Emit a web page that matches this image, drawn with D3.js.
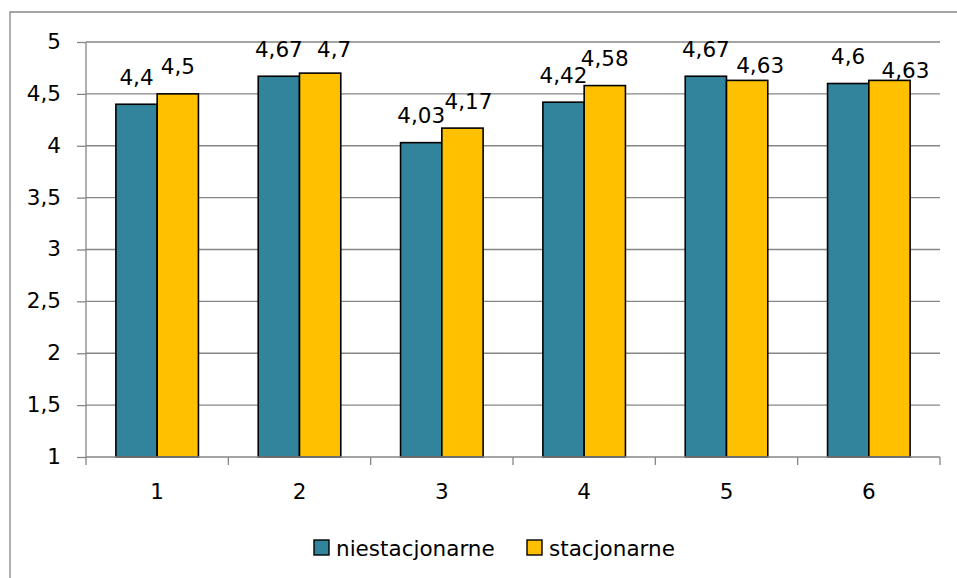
<!DOCTYPE html>
<html lang="pl">
<head>
<meta charset="utf-8">
<title>niestacjonarne / stacjonarne</title>
<script src="https://cdnjs.cloudflare.com/ajax/libs/d3/7.8.5/d3.min.js"></script>
<style>
  html, body { margin: 0; padding: 0; background: #fff; overflow: hidden; }
  svg { display: block; font-family: "DejaVu Sans", sans-serif; }
  .axis path, .axis line { stroke: #868686; }
  .axis text { fill: #000; font-size: 21.5px; font-family: "DejaVu Sans", sans-serif; }
</style>
</head>
<body>
<svg width="957" height="578"></svg>
<script>
// data
var categories = ["1", "2", "3", "4", "5", "6"];
var seriesNames = ["niestacjonarne", "stacjonarne"];
var niestacjonarne = [4.4, 4.67, 4.03, 4.42, 4.67, 4.6];
var stacjonarne = [4.5, 4.7, 4.17, 4.58, 4.63, 4.63];
var yTicks = [1, 1.5, 2, 2.5, 3, 3.5, 4, 4.5, 5];

var colors = ["#31849B", "#FFC000"];
// hand-moved labels of the second series in the original [dx, dy]
var labelNudge = [[0, 0], [14, 3], [6, 0], [0, 0], [13, 12], [16, 17]];

var svg = d3.select("svg");
var plotL = 86, plotR = 940, plotT = 42, plotB = 457;

var pl = d3.formatLocale({decimal: ",", thousands: " ", grouping: [3], currency: ["", " zł"]});
var fmt = pl.format(".2~f");

var x0 = d3.scaleBand().domain(categories).range([plotL, plotR])
    .paddingInner(0.42).paddingOuter(0.21);
var x1 = d3.scaleBand().domain(seriesNames).range([0, x0.bandwidth()]);
var y = d3.scaleLinear().domain([1, 5]).range([plotB, plotT]);

// outer chart frame (only top and left edges fall inside the picture)
svg.append("path")
    .attr("d", "M10,578V12H957")
    .attr("fill", "none")
    .attr("stroke", "#868686")
    .attr("stroke-width", 1.3);

// gridlines
svg.append("g").selectAll("line")
    .data(yTicks.slice(1))
    .join("line")
    .attr("x1", plotL).attr("x2", plotR)
    .attr("y1", d => y(d)).attr("y2", d => y(d))
    .attr("stroke", "#868686")
    .attr("stroke-width", 1.3);

// y axis
var yAxis = svg.append("g")
    .attr("class", "axis")
    .attr("transform", "translate(" + plotL + ",0)")
    .call(d3.axisLeft(y).tickValues(yTicks).tickSize(9).tickPadding(16).tickFormat(fmt));
yAxis.select(".domain").attr("d", "M0," + plotB + "V" + plotT).attr("stroke-width", 1.3);
yAxis.selectAll(".tick line").attr("stroke-width", 1.3);
yAxis.selectAll("text").attr("dy", "0.3em");

// bars
var rows = categories.map((c, i) => ({cat: c, vals: [niestacjonarne[i], stacjonarne[i]], i: i}));
var groups = svg.append("g").selectAll("g")
    .data(rows)
    .join("g")
    .attr("transform", d => "translate(" + x0(d.cat) + ",0)");

groups.selectAll("rect")
    .data(d => d.vals.map((v, k) => ({v: v, k: k, i: d.i})))
    .join("rect")
    .attr("x", d => x1(seriesNames[d.k]))
    .attr("y", d => y(d.v))
    .attr("width", x1.bandwidth())
    .attr("height", d => y(1) - y(d.v))
    .attr("fill", d => colors[d.k])
    .attr("stroke", "#000")
    .attr("stroke-width", 1.6);

// x axis
var xAxis = svg.append("g")
    .attr("class", "axis")
    .attr("transform", "translate(0," + plotB + ")")
    .call(d3.axisBottom(x0).tickSize(0).tickPadding(27));
xAxis.select(".domain").attr("d", "M" + plotL + ",0H" + plotR).attr("stroke-width", 1.3);
xAxis.selectAll("text").attr("dy", "0.71em");
var step = x0.step();
var bounds = categories.map(c => x0(c) - x0.paddingOuter() * step).concat([plotR]);
xAxis.selectAll(".bound")
    .data(bounds)
    .join("line")
    .attr("class", "bound")
    .attr("x1", d => d).attr("x2", d => d)
    .attr("y1", 0).attr("y2", 8)
    .attr("stroke", "#868686")
    .attr("stroke-width", 1.3);

// data labels
groups.selectAll("text.lbl")
    .data(d => d.vals.map((v, k) => ({v: v, k: k, i: d.i})))
    .join("text")
    .attr("class", "lbl")
    .attr("x", d => x1(seriesNames[d.k]) + x1.bandwidth() / 2 + (d.k === 1 ? labelNudge[d.i][0] : 0))
    .attr("y", d => y(d.v) - 19.5 + (d.k === 1 ? labelNudge[d.i][1] : 0))
    .attr("text-anchor", "middle")
    .attr("font-size", 21.5)
    .attr("fill", "#000")
    .text(d => fmt(d.v));

// legend
var legendX = [314, 527];
var legend = svg.append("g").selectAll("g")
    .data(seriesNames)
    .join("g")
    .attr("transform", (d, k) => "translate(" + legendX[k] + ",540)");
legend.append("rect")
    .attr("width", 15).attr("height", 15)
    .attr("fill", (d, k) => colors[k])
    .attr("stroke", "#000")
    .attr("stroke-width", 1.4);
legend.append("text")
    .attr("x", 22).attr("y", 16)
    .attr("font-size", 21.5)
    .attr("fill", "#000")
    .text(d => d);
</script>
</body>
</html>
